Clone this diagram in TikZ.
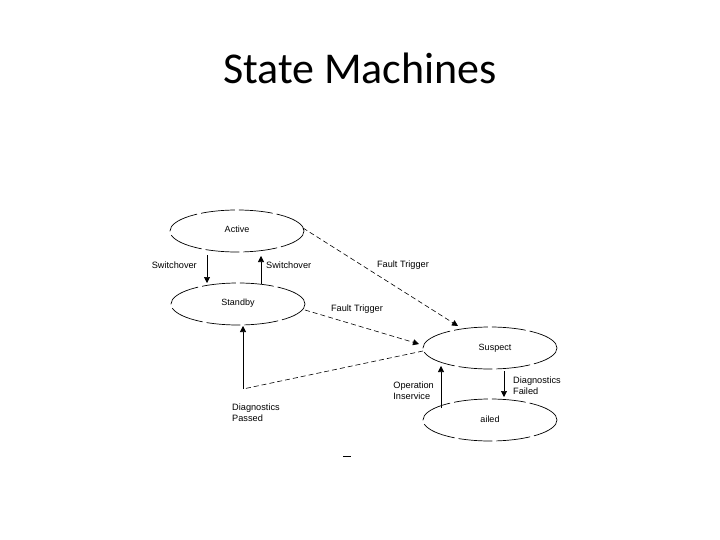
\documentclass[tikz,border=0pt]{standalone}
\usepackage{fontspec}
\setmainfont{Liberation Sans}
\newfontfamily\titlefont{Carlito}
\usetikzlibrary{shapes.geometric,arrows.meta}
\begin{document}
\begin{tikzpicture}[x=1pt,y=-1pt,
  stateellipse/.style={ellipse,draw,line width=0.7pt,dash pattern=on 34pt off 4pt,minimum width=134pt,minimum height=42pt,inner sep=0pt,font=\fontsize{9}{10}\selectfont},
  lbl/.style={font=\fontsize{9.2}{10.5}\selectfont,inner sep=0pt},
  tr/.style={line width=0.6pt,-{Triangle[length=6pt,width=6pt]}},
  dsh/.style={tr,dash pattern=on 5pt off 3pt}]
\useasboundingbox (0,0) rectangle (720,540);
\node[font=\titlefont\fontsize{44}{48}\selectfont] (title) at (360,68) {State Machines};
\node[stateellipse] (active) at (237,231) {\raisebox{3pt}{Active}};
\node[stateellipse] (standby) at (238,304) {\raisebox{3pt}{Standby}};
\node[stateellipse] (suspect) at (490,348) {\raisebox{2pt}{\hspace{10pt}Suspect}};
\node[stateellipse] (failed) at (490,420) {\raisebox{2pt}{ailed}};
% switchover
\coordinate (s1a) at (207,255);
\coordinate (s1b) at (207,283);
\coordinate (s2a) at (261,284);
\coordinate (s2b) at (261,256);
\draw[tr] (s1a) -- (s1b);
\draw[tr] (s2a) -- (s2b);
\node[lbl,anchor=east] (lsw1) at (197,265) {Switchover};
\node[lbl,anchor=west] (lsw2) at (266,265) {Switchover};
% fault triggers
\coordinate (f1a) at (303,228);
\coordinate (f1b) at (458,326);
\coordinate (f2a) at (305,310);
\coordinate (f2b) at (419,344);
\draw[dsh] (f1a) -- (f1b);
\draw[dsh] (f2a) -- (f2b);
\node[lbl] (lft1) at (403,265) {Fault Trigger};
\node[lbl] (lft2) at (357,309) {Fault Trigger};
% diagnostics passed
\coordinate (dp0) at (423,351);
\coordinate (dpc) at (243,389);
\coordinate (dpt) at (243,326);
\draw[line width=0.6pt,dash pattern=on 5pt off 3pt] (dp0) -- (dpc);
\draw[tr] (dpc) -- (dpt);
\node[lbl,anchor=north west,align=left] (ldp) at (232,404) {Diagnostics\\Passed};
% operation inservice
\coordinate (oa) at (441,408);
\coordinate (ob) at (441,366);
\draw[tr] (oa) -- (ob);
\node[lbl,anchor=north east,align=left] (lop) at (434,382) {Operation\\Inservice};
% diagnostics failed
\coordinate (dfa) at (504,371);
\coordinate (dfb) at (504,397);
\draw[tr] (dfa) -- (dfb);
\node[lbl,anchor=north west,align=left] (ldf) at (513,377) {Diagnostics\\Failed};
% small mark
\coordinate (m1) at (343,456);
\coordinate (m2) at (351,456);
\draw[line width=0.7pt] (m1) -- (m2);
\end{tikzpicture}
\end{document}
